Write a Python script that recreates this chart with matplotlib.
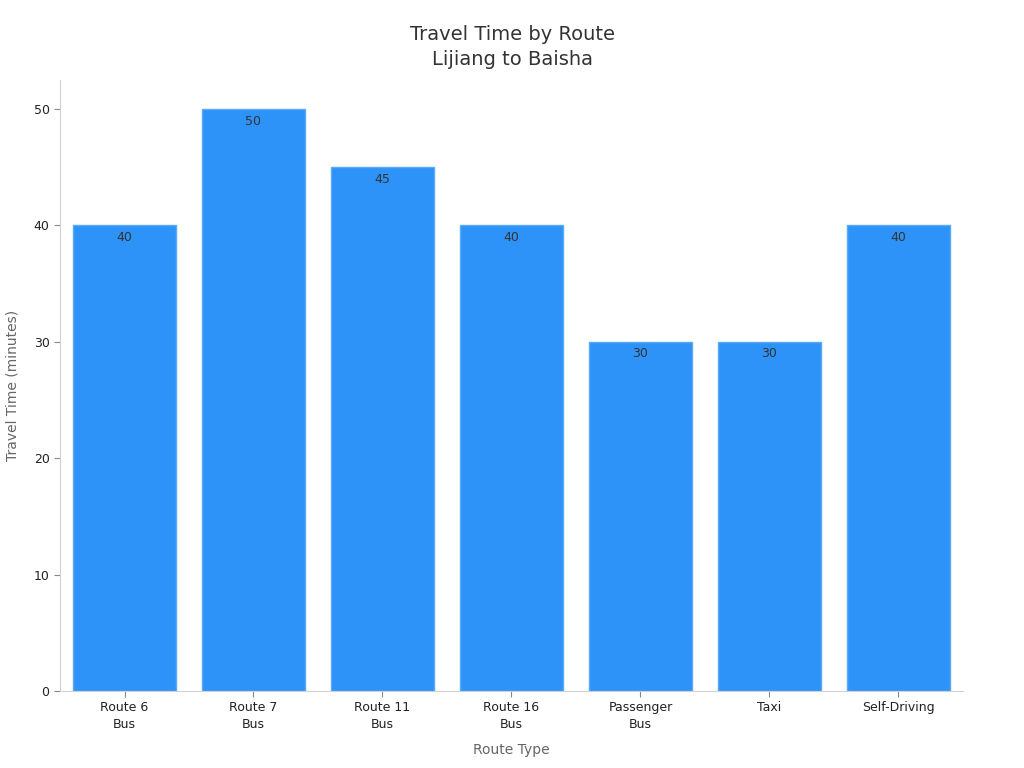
import matplotlib
matplotlib.use('Agg')
import matplotlib.pyplot as plt

# data
routes = ['Route 6\nBus', 'Route 7\nBus', 'Route 11\nBus', 'Route 16\nBus',
          'Passenger\nBus', 'Taxi', 'Self-Driving']
minutes = [40, 50, 45, 40, 30, 30, 40]

fig = plt.figure(figsize=(10.24, 7.68), dpi=100)
ax = fig.add_axes([0.0586, 0.1003, 0.8818, 0.7957])

x = range(len(routes))
bars = ax.bar(x, minutes, width=0.8, color='#2E93F9', edgecolor='#5aabf7', linewidth=1)

for b, v in zip(bars, minutes):
    ax.annotate(str(v), (b.get_x() + b.get_width() / 2, v), xytext=(0, -4),
                textcoords='offset points', ha='center', va='top',
                fontsize=9, color='#333333')

ax.set_xlim(-0.5, 6.5)
ax.set_ylim(0, 52.5)
ax.set_xticks(list(x))
ax.set_xticklabels(routes, fontsize=9, color='#222222', linespacing=1.35)
ax.set_yticks([0, 10, 20, 30, 40, 50])
ax.tick_params(axis='y', labelsize=9, labelcolor='#222222', color='#888888', length=4)
ax.tick_params(axis='x', color='#888888', length=4)

for s in ['top', 'right']:
    ax.spines[s].set_visible(False)
for s in ['left', 'bottom']:
    ax.spines[s].set_color('#d0d0d0')

ax.set_xlabel('Route Type', fontsize=10, color='#666666', labelpad=9)
ax.set_ylabel('Travel Time (minutes)', fontsize=10, color='#666666', labelpad=10)
fig.suptitle('Travel Time by Route\nLijiang to Baisha', fontsize=14, color='#333333',
             y=0.967, linespacing=1.4)

fig.savefig('out.png', dpi=100)
